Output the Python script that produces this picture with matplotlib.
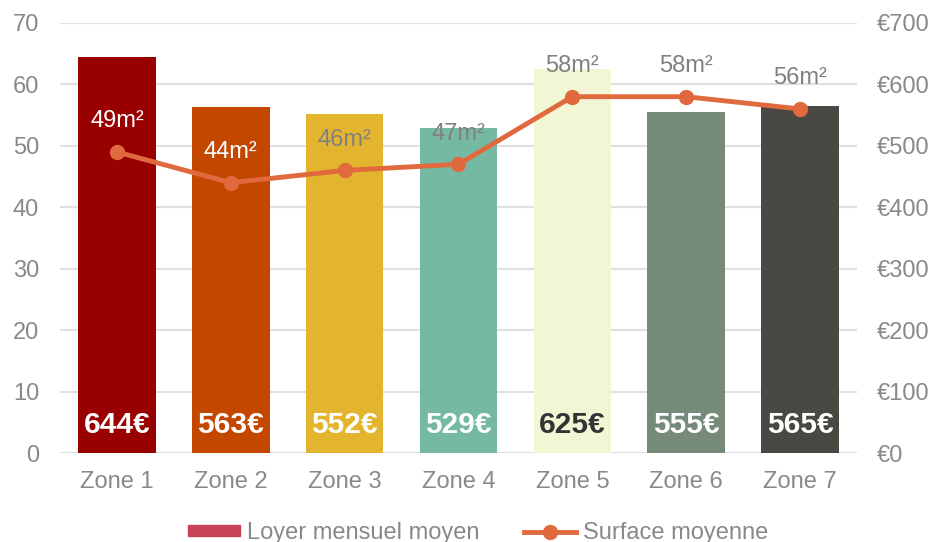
import matplotlib.pyplot as plt
from matplotlib.patches import Patch
from matplotlib.lines import Line2D

plt.rcParams['font.family'] = ['Liberation Sans', 'DejaVu Sans']

zones = ["Zone 1", "Zone 2", "Zone 3", "Zone 4", "Zone 5", "Zone 6", "Zone 7"]
loyer = [644, 563, 552, 529, 625, 555, 565]
surface = [49, 44, 46, 47, 58, 58, 56]
bar_colors = ["#990000", "#C44700", "#E3B52E", "#76B9A3", "#F2F6D5", "#768A7A", "#494843"]
loyer_label_colors = ["white", "white", "white", "white", "#333333", "white", "white"]
surface_label_colors = ["white", "white", "#808080", "#808080", "#808080", "#808080", "#808080"]

grey = "#898989"
line_color = "#E0693E"

fig = plt.figure(figsize=(9.32, 5.42), dpi=100)
ax = fig.add_axes([0.0644, 0.1642, 0.8551, 0.7934])
ax2 = ax.twinx()

x = range(len(zones))

# bars on the euro axis (right)
ax2.bar(x, loyer, width=0.68, color=bar_colors, zorder=2)
for i, v in enumerate(loyer):
    ax2.annotate(f"{v}€", (i, 0), xytext=(0, 20.5), textcoords="offset points",
                 ha="center", va="center", fontsize=21.5, fontweight="bold",
                 color=loyer_label_colors[i])
ax2.set_ylim(0, 700)
ax2.set_yticks(range(0, 701, 100))
ax2.set_yticklabels([f"€{t}" for t in range(0, 701, 100)])

# line on the surface axis (left), drawn above the bars
ax.set_zorder(ax2.get_zorder() + 1)
ax.patch.set_visible(False)
ax.plot(x, surface, color=line_color, lw=3.5, marker="o", ms=10, zorder=3)
for i, v in enumerate(surface):
    ax.annotate(f"{v}m²", (i, v), xytext=(0, 22), textcoords="offset points",
                ha="center", va="center", fontsize=17, color=surface_label_colors[i])
ax.set_ylim(0, 70)
ax.set_yticks(range(0, 71, 10))
ax.set_xlim(-0.5, len(zones) - 0.5)
ax.set_xticks(list(x))
ax.set_xticklabels(zones)

ax2.grid(axis="y", color="#E0E0E0", lw=1.5, zorder=0)
ax2.set_axisbelow(True)

for a in (ax, ax2):
    for s in a.spines.values():
        s.set_visible(False)
    a.tick_params(length=0, labelsize=17, labelcolor=grey)
ax.tick_params(axis="y", pad=15)
ax2.tick_params(axis="y", pad=14)
ax.tick_params(axis="x", pad=13)

handles = [Patch(color="#C94459"),
           Line2D([], [], color=line_color, lw=3.5, marker="o", ms=10)]
fig.legend(handles, ["Loyer mensuel moyen", "Surface moyenne"], loc="center",
           bbox_to_anchor=(0.513, 0.016), ncol=2, frameon=False, fontsize=17,
           labelcolor=grey, handlelength=2.2, handleheight=0.35,
           handletextpad=0.3, columnspacing=1.9)

fig.savefig("out.png", dpi=100)
